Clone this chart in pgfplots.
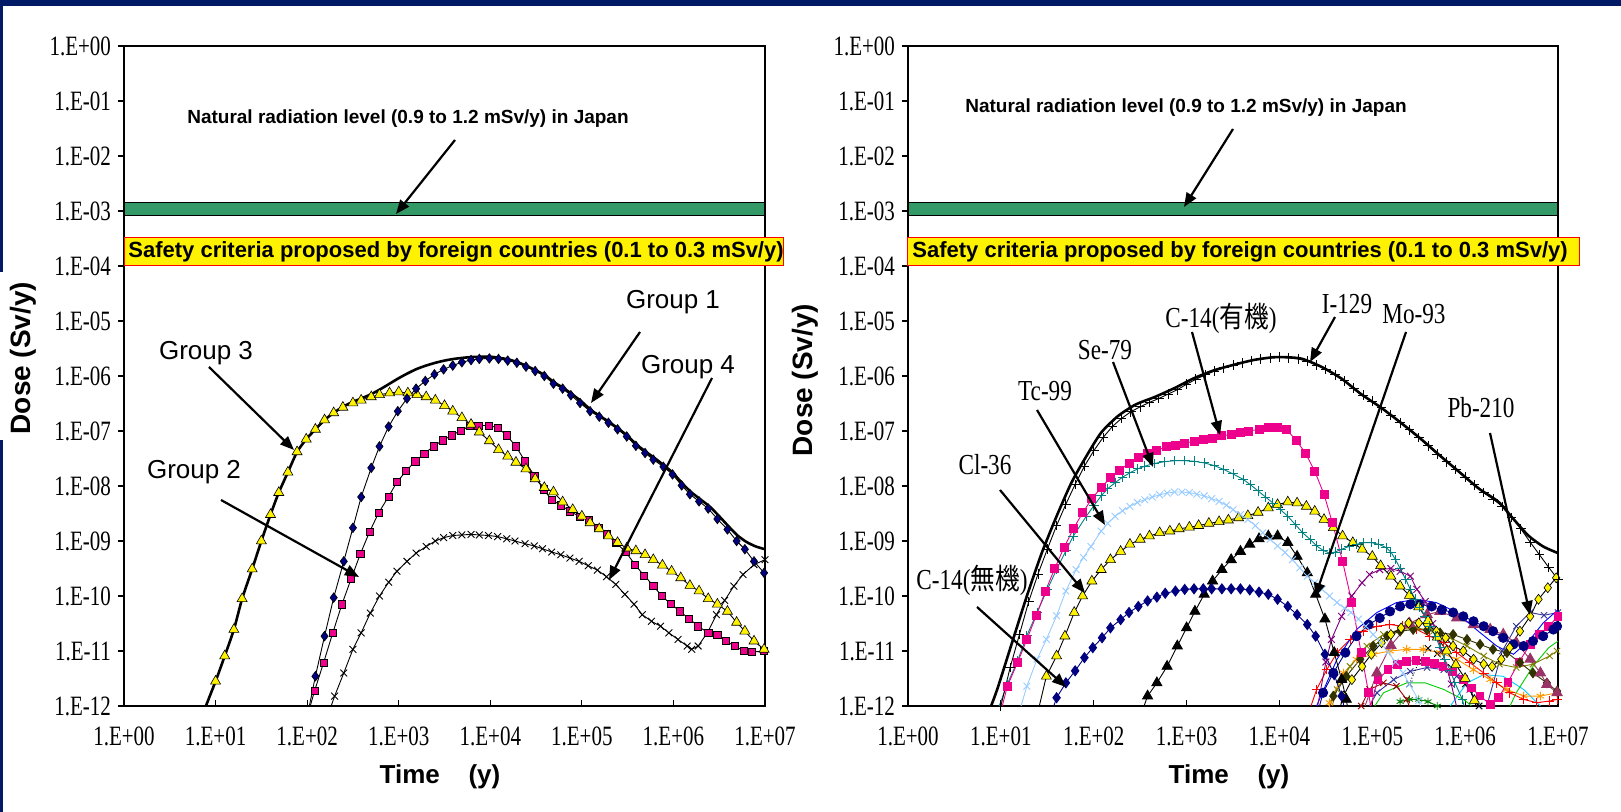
\documentclass[border=0pt]{standalone}
\usepackage{pgfplots}
\pgfplotsset{compat=1.18}
\usepackage{fontspec}
\usetikzlibrary{arrows.meta}
\setmainfont{Liberation Sans}
\newfontfamily\tickfont[FakeStretch=0.75]{Liberation Serif}
\newfontfamily\labfont[FakeStretch=0.8]{Liberation Serif}
\newfontfamily\cjk[FakeStretch=0.85]{Noto Sans CJK JP}
\definecolor{navyband}{HTML}{001A66}
\definecolor{bandgreen}{HTML}{339966}
\definecolor{mynavy}{HTML}{000080}
\definecolor{myteal}{HTML}{008080}
\definecolor{lblue}{HTML}{99CCFF}
\definecolor{mypurple}{HTML}{800080}
\definecolor{mauve}{HTML}{993366}
\definecolor{myolive}{HTML}{808000}
\definecolor{darkolive}{HTML}{333300}
\definecolor{myorange}{HTML}{FF9900}
\definecolor{mygreen}{HTML}{00CC00}
\definecolor{mycyan}{HTML}{00CCFF}
\definecolor{darkred}{HTML}{990000}
\definecolor{slate}{HTML}{333399}
\definecolor{dgreen}{HTML}{008000}
\pgfplotsset{
  dosestyle/.style={
    scale only axis, height=330pt,
    xmin=0, xmax=7, ymin=-12, ymax=0,
    xtick={0,1,2,3,4,5,6,7},
    xticklabels={1.E+00,1.E+01,1.E+02,1.E+03,1.E+04,1.E+05,1.E+06,1.E+07},
    ytick={-12,-11,-10,-9,-8,-7,-6,-5,-4,-3,-2,-1,0},
    yticklabels={1.E-12,1.E-11,1.E-10,1.E-09,1.E-08,1.E-07,1.E-06,1.E-05,1.E-04,1.E-03,1.E-02,1.E-01,1.E+00},
    tick pos=left, xtick align=inside, ytick align=outside,
    major tick length=3pt,
    tick style={black, line width=0.6pt},
    axis line style={line width=0.8pt},
    tick label style={font=\tickfont\fontsize{14}{15}\selectfont},
    xticklabel style={yshift=-7pt},
  },
  thin line/.style={line width=0.45pt},
}
\newcommand{\arr}[2]{\draw[-{Triangle[length=7pt,width=5.5pt]}, line width=1.1pt] #1 -- #2;}
\begin{document}
\begin{tikzpicture}
\path[use as bounding box] (0,0) rectangle (810.5pt,406pt);
\fill[navyband] (0,403pt) rectangle (810.5pt,406pt);
\fill[navyband] (0,0) rectangle (1.5pt,406pt);
\fill[white] (0,186pt) rectangle (3pt,270pt);

% ---------------- LEFT ----------------
\begin{axis}[dosestyle, at={(62pt,53pt)}, anchor=south west, width=320.5pt]
\addplot[fill=bandgreen, draw=black, line width=0.6pt] coordinates {(0,-2.85) (7,-2.85) (7,-3.08) (0,-3.08)} -- cycle;
% Group 4
\addplot[thin line, black, mark=x, mark size=2.4pt] coordinates {
(2.2,-12.3)(2.30,-11.82)(2.4,-11.4)(2.5,-10.97)(2.59,-10.67)(2.69,-10.31)(2.79,-10.0)(2.89,-9.75)(2.98,-9.55)(3.09,-9.37)(3.19,-9.22)(3.3,-9.1)(3.4,-9.0)(3.49,-8.94)(3.59,-8.9)(3.69,-8.89)(3.79,-8.88)(3.88,-8.89)(3.98,-8.9)(4.08,-8.92)(4.18,-8.96)(4.27,-9.0)(4.38,-9.05)(4.48,-9.09)(4.57,-9.14)(4.67,-9.2)(4.77,-9.25)(4.87,-9.31)(4.97,-9.37)(5.07,-9.45)(5.17,-9.53)(5.27,-9.65)(5.37,-9.79)(5.47,-9.97)(5.57,-10.15)(5.66,-10.34)(5.76,-10.46)(5.86,-10.55)(5.95,-10.67)(6.05,-10.79)(6.15,-10.91)(6.2,-10.97)(6.27,-10.91)(6.37,-10.67)(6.47,-10.34)(6.56,-10.08)(6.66,-9.82)(6.76,-9.61)(6.88,-9.43)(7.0,-9.34)};
% Group 2
\addplot[thin line, black, mark=square*, mark size=1.8pt, mark options={fill=magenta, draw=black, line width=0.3pt}] coordinates {
(2.0,-12.2)(2.08,-11.73)(2.18,-11.21)(2.28,-10.67)(2.38,-10.15)(2.48,-9.69)(2.58,-9.24)(2.68,-8.84)(2.78,-8.49)(2.89,-8.19)(2.98,-7.93)(3.08,-7.73)(3.18,-7.55)(3.28,-7.41)(3.38,-7.28)(3.48,-7.17)(3.58,-7.08)(3.68,-6.99)(3.78,-6.91)(3.87,-6.9)(3.98,-6.9)(4.08,-6.94)(4.18,-7.08)(4.28,-7.28)(4.38,-7.55)(4.48,-7.81)(4.58,-8.06)(4.67,-8.25)(4.77,-8.35)(4.87,-8.46)(4.98,-8.56)(5.08,-8.61)(5.18,-8.76)(5.27,-8.88)(5.37,-9.03)(5.48,-9.2)(5.58,-9.43)(5.68,-9.63)(5.78,-9.81)(5.87,-10.0)(5.97,-10.14)(6.07,-10.28)(6.17,-10.41)(6.27,-10.55)(6.38,-10.67)(6.48,-10.7)(6.57,-10.82)(6.67,-10.91)(6.77,-11.0)(6.86,-11.02)(6.99,-11.0)};
% Group 3
\addplot[thin line, black, mark=triangle*, mark size=2.9pt, mark options={fill=yellow, draw=black, line width=0.3pt}] coordinates {
(0.80,-12.4)(1.0,-11.55)(1.1,-11.09)(1.2,-10.61)(1.29,-10.05)(1.4,-9.51)(1.5,-9.0)(1.6,-8.52)(1.69,-8.12)(1.79,-7.75)(1.89,-7.38)(1.99,-7.15)(2.09,-6.97)(2.19,-6.80)(2.29,-6.67)(2.39,-6.57)(2.5,-6.49)(2.59,-6.44)(2.7,-6.38)(2.79,-6.34)(2.9,-6.31)(3.0,-6.29)(3.1,-6.31)(3.2,-6.34)(3.3,-6.38)(3.4,-6.44)(3.5,-6.54)(3.59,-6.64)(3.69,-6.76)(3.79,-6.88)(3.88,-7.02)(3.99,-7.18)(4.09,-7.34)(4.19,-7.46)(4.28,-7.57)(4.39,-7.69)(4.49,-7.87)(4.59,-8.03)(4.69,-8.11)(4.79,-8.29)(4.9,-8.43)(5.0,-8.55)(5.09,-8.67)(5.19,-8.78)(5.29,-8.91)(5.39,-9.03)(5.49,-9.13)(5.59,-9.18)(5.69,-9.25)(5.78,-9.34)(5.88,-9.44)(5.98,-9.55)(6.08,-9.67)(6.18,-9.81)(6.28,-9.91)(6.38,-10.05)(6.48,-10.15)(6.59,-10.28)(6.69,-10.48)(6.78,-10.64)(6.88,-10.82)(6.99,-10.97)};
% Group 1
\addplot[thin line, black, mark=diamond*, mark size=2.4pt, mark options={fill=mynavy, draw=black, line width=0.3pt}] coordinates {
(2.0,-12.2)(2.09,-11.46)(2.19,-10.73)(2.29,-10.03)(2.4,-9.37)(2.5,-8.76)(2.59,-8.2)(2.7,-7.67)(2.79,-7.28)(2.89,-6.92)(2.99,-6.64)(3.09,-6.41)(3.19,-6.23)(3.29,-6.09)(3.39,-5.97)(3.49,-5.88)(3.59,-5.81)(3.69,-5.75)(3.79,-5.71)(3.88,-5.69)(3.99,-5.68)(4.09,-5.69)(4.19,-5.72)(4.29,-5.76)(4.39,-5.83)(4.49,-5.91)(4.59,-6.0)(4.69,-6.14)(4.79,-6.23)(4.88,-6.35)(4.98,-6.49)(5.09,-6.64)(5.19,-6.74)(5.29,-6.85)(5.39,-6.97)(5.49,-7.1)(5.59,-7.27)(5.69,-7.4)(5.78,-7.52)(5.89,-7.65)(5.99,-7.79)(6.09,-7.99)(6.18,-8.15)(6.28,-8.28)(6.38,-8.41)(6.48,-8.6)(6.59,-8.79)(6.69,-9.0)(6.78,-9.15)(6.88,-9.37)(6.99,-9.58)};
% Total
\addplot[black, line width=1.3pt, smooth, tension=0.4] coordinates {
(0.80,-12.4)(1.0,-11.55)(1.1,-11.09)(1.2,-10.61)(1.29,-10.05)(1.4,-9.51)(1.5,-9.0)(1.6,-8.52)(1.69,-8.12)(1.79,-7.75)(1.89,-7.38)(1.99,-7.15)(2.09,-6.97)(2.19,-6.8)(2.29,-6.67)(2.39,-6.56)(2.5,-6.47)(2.59,-6.41)(2.7,-6.33)(2.8,-6.24)(2.9,-6.14)(3.0,-6.04)(3.1,-5.95)(3.2,-5.87)(3.3,-5.81)(3.4,-5.76)(3.5,-5.72)(3.6,-5.69)(3.7,-5.67)(3.8,-5.655)(3.9,-5.65)(4.0,-5.65)(4.1,-5.67)(4.2,-5.7)(4.3,-5.75)(4.4,-5.82)(4.5,-5.9)(4.6,-5.99)(4.7,-6.12)(4.8,-6.22)(4.9,-6.34)(5.0,-6.47)(5.1,-6.62)(5.2,-6.73)(5.3,-6.84)(5.4,-6.96)(5.5,-7.09)(5.6,-7.25)(5.7,-7.38)(5.8,-7.5)(5.9,-7.63)(6.0,-7.77)(6.1,-7.96)(6.2,-8.12)(6.3,-8.25)(6.4,-8.38)(6.5,-8.55)(6.6,-8.73)(6.7,-8.9)(6.8,-9.02)(6.9,-9.1)(7.0,-9.15)};
\end{axis}

% ---------------- RIGHT ----------------
\begin{axis}[dosestyle, at={(454pt,53pt)}, anchor=south west, width=325pt]
\addplot[fill=bandgreen, draw=black, line width=0.6pt] coordinates {(0,-2.85) (7,-2.85) (7,-3.08) (0,-3.08)} -- cycle;
% background nuclides
\addplot[thin line, mycyan] coordinates {(5.75,-12.2)(5.84,-12.0)(6.02,-11.58)(6.2,-11.43)(6.41,-11.46)(6.63,-11.7)(6.81,-12.0)(6.9,-12.2)};
\addplot[thin line, mygreen] coordinates {(4.95,-12.2)(5.12,-11.76)(5.37,-11.58)(5.57,-11.58)(5.77,-11.7)(6.0,-11.9)(6.2,-12.2)(6.4,-12.3)(6.55,-11.76)(6.73,-11.28)(6.9,-10.94)(7.0,-10.82)};
\addplot[thin line, dgreen, mark=asterisk, mark size=2pt] coordinates {(5.3,-11.92)(5.4,-11.88)(5.5,-11.88)(5.6,-11.92)(5.7,-12.0)};
\addplot[thin line, darkred, mark=x, mark size=2.2pt] coordinates {(4.8,-12.2)(4.88,-12.0)(4.97,-11.7)(5.12,-11.58)(5.26,-11.64)(5.37,-11.88)(5.42,-12.1)};
\addplot[thin line, slate, mark=x, mark size=2.2pt] coordinates {(4.9,-12.2)(5.05,-11.76)(5.23,-11.52)(5.41,-11.37)(5.59,-11.3)(5.77,-11.34)(5.91,-11.46)(6.05,-11.7)(6.15,-12.0)(6.2,-12.2)};
\addplot[thin line, slate, mark=x, mark size=2.2pt] coordinates {(6.2,-12.2)(6.4,-11.0)(6.55,-10.55)(6.7,-10.3)(6.85,-10.35)(7.0,-10.3)};
\addplot[thin line, black, densely dotted, mark=x, mark size=2.2pt, mark options={solid}] coordinates {(5.4,-11.6)(5.5,-11.2)(5.6,-10.95)(5.7,-11.05)(5.85,-11.3)(6.0,-11.6)(6.15,-12.0)(6.2,-12.2)};
\addplot[thin line, magenta, mark=square*, mark size=1.9pt, mark options={fill=magenta}] coordinates {(4.95,-12.2)(5.06,-11.52)(5.17,-11.34)(5.27,-11.25)(5.37,-11.19)(5.47,-11.17)(5.57,-11.19)(5.67,-11.23)(5.76,-11.28)(5.87,-11.38)(5.98,-11.52)(6.07,-11.67)(6.16,-11.82)(6.27,-11.97)(6.36,-11.85)(6.46,-11.57)(6.58,-11.2)(6.7,-10.88)(6.8,-10.7)(6.9,-10.55)(7.0,-10.37)};
\addplot[thin line, myorange, mark=asterisk, mark size=2.2pt] coordinates {(4.5,-12.2)(4.54,-11.94)(4.69,-11.4)(4.83,-11.15)(5.01,-11.06)(5.19,-11.0)(5.37,-10.97)(5.55,-10.97)(5.73,-11.03)(5.91,-11.15)(6.09,-11.34)(6.27,-11.52)(6.45,-11.7)(6.63,-11.82)(6.81,-11.82)(6.99,-11.76)};
\addplot[thin line, red, mark=+, mark size=2.4pt] coordinates {(4.3,-12.2)(4.4,-11.7)(4.51,-11.34)(4.62,-11.03)(4.76,-10.79)(4.9,-10.64)(5.05,-10.55)(5.19,-10.52)(5.33,-10.55)(5.48,-10.61)(5.62,-10.73)(5.77,-10.85)(5.91,-11.03)(6.05,-11.21)(6.2,-11.4)(6.34,-11.58)(6.48,-11.76)(6.63,-11.88)(6.77,-11.94)(6.91,-11.91)(6.99,-11.88)};
\addplot[thin line, myolive, mark=x, mark size=2.2pt] coordinates {(4.55,-12.1)(4.62,-11.7)(4.76,-11.28)(4.94,-10.91)(5.12,-10.7)(5.3,-10.61)(5.48,-10.58)(5.66,-10.64)(5.84,-10.76)(6.02,-10.91)(6.2,-11.09)(6.37,-11.24)(6.55,-11.3)(6.73,-11.24)(6.91,-11.09)(6.99,-11.0)};
\addplot[thin line, darkolive, mark=diamond*, mark size=2.4pt, mark options={fill=darkolive}] coordinates {(4.5,-12.2)(4.58,-11.82)(4.72,-11.46)(4.87,-11.15)(5.01,-10.91)(5.16,-10.73)(5.3,-10.64)(5.44,-10.61)(5.59,-10.62)(5.73,-10.67)(5.87,-10.7)(6.02,-10.79)(6.16,-10.88)(6.3,-10.97)(6.45,-11.03)(6.59,-11.21)(6.73,-11.4)(6.88,-11.58)(6.99,-11.73)};
\addplot[thin line, mauve, mark=triangle*, mark size=3pt, mark options={fill=mauve}] coordinates {(4.9,-12.1)(5.05,-11.4)(5.2,-10.9)(5.4,-10.5)(5.59,-10.34)(5.73,-10.28)(5.91,-10.4)(6.09,-10.52)(6.27,-10.61)(6.41,-10.7)(6.55,-10.85)(6.7,-11.15)(6.81,-11.4)(6.88,-11.61)(6.99,-11.76)};
\addplot[thin line, blue] coordinates {(4.35,-12.2)(4.4,-12.0)(4.62,-11.15)(4.83,-10.61)(5.05,-10.3)(5.26,-10.12)(5.48,-10.06)(5.69,-10.12)(5.91,-10.3)(6.12,-10.61)(6.34,-10.91)(6.52,-11.06)(6.7,-10.79)(6.84,-10.49)(7.0,-10.25)};
\addplot[thin line, mynavy, mark=*, mark size=2.3pt, mark options={fill=mynavy}] coordinates {(4.4,-12.2)(4.47,-11.76)(4.58,-11.4)(4.71,-11.03)(4.83,-10.73)(4.96,-10.52)(5.08,-10.4)(5.19,-10.28)(5.3,-10.19)(5.41,-10.15)(5.51,-10.15)(5.64,-10.19)(5.75,-10.25)(5.87,-10.3)(5.98,-10.37)(6.09,-10.46)(6.2,-10.55)(6.3,-10.64)(6.41,-10.76)(6.52,-10.88)(6.63,-10.91)(6.73,-10.82)(6.84,-10.73)(6.95,-10.61)(6.99,-10.55)};
\addplot[thin line, mypurple, mark=x, mark size=2.4pt] coordinates {(4.4,-12.1)(4.5,-11.2)(4.56,-10.79)(4.67,-10.37)(4.78,-10.0)(4.89,-9.76)(4.97,-9.61)(5.08,-9.52)(5.2,-9.5)(5.3,-9.55)(5.41,-9.64)(5.48,-9.88)(5.57,-10.1)(5.65,-10.5)(5.75,-11.0)(5.85,-11.6)(5.92,-12.1)};
% Pb-210
\addplot[thin line, black, mark=diamond*, mark size=2.5pt, mark options={fill=yellow, draw=black, line width=0.3pt}] coordinates {(4.62,-12.2)(4.69,-11.82)(4.78,-11.52)(4.89,-11.28)(4.99,-11.06)(5.1,-10.85)(5.2,-10.7)(5.31,-10.58)(5.39,-10.49)(5.5,-10.49)(5.59,-10.52)(5.69,-10.64)(5.79,-10.76)(5.87,-10.91)(5.98,-11.0)(6.09,-11.15)(6.2,-11.24)(6.29,-11.28)(6.39,-11.15)(6.48,-10.94)(6.59,-10.64)(6.7,-10.37)(6.79,-10.06)(6.89,-9.85)(6.98,-9.67)};
% Mo-93
\addplot[thin line, black, mark=triangle*, mark size=2.9pt, mark options={fill=black}] coordinates {(2.5,-12.2)(2.58,-11.82)(2.68,-11.58)(2.79,-11.28)(2.9,-10.91)(3.0,-10.58)(3.09,-10.28)(3.19,-9.97)(3.28,-9.73)(3.38,-9.52)(3.48,-9.34)(3.58,-9.19)(3.68,-9.06)(3.78,-8.96)(3.88,-8.91)(3.98,-8.91)(4.09,-9.03)(4.19,-9.28)(4.3,-9.58)(4.39,-9.97)(4.49,-10.42)(4.59,-11.03)(4.67,-11.52)(4.72,-11.88)(4.75,-12.2)};
% C-14 inorganic
\addplot[thin line, mynavy, mark=diamond*, mark size=2.5pt, mark options={fill=mynavy}] coordinates {(1.55,-12.1)(1.6,-11.85)(1.7,-11.58)(1.8,-11.36)(1.9,-11.12)(1.99,-10.94)(2.09,-10.76)(2.18,-10.58)(2.29,-10.43)(2.38,-10.3)(2.48,-10.19)(2.58,-10.09)(2.68,-10.02)(2.77,-9.95)(2.88,-9.91)(2.98,-9.88)(3.08,-9.87)(3.18,-9.87)(3.27,-9.87)(3.38,-9.87)(3.48,-9.87)(3.58,-9.87)(3.68,-9.89)(3.78,-9.93)(3.88,-9.97)(3.98,-10.06)(4.09,-10.19)(4.19,-10.34)(4.3,-10.52)(4.39,-10.73)(4.49,-11.06)(4.59,-11.43)(4.67,-11.82)(4.72,-12.2)};
% Cl-36
\addplot[thin line, black, mark=triangle*, mark size=2.9pt, mark options={fill=yellow, draw=black, line width=0.3pt}] coordinates {(1.4,-12.1)(1.49,-11.46)(1.6,-11.09)(1.69,-10.73)(1.79,-10.3)(1.88,-10.0)(1.98,-9.73)(2.08,-9.52)(2.18,-9.34)(2.29,-9.19)(2.39,-9.06)(2.5,-8.97)(2.6,-8.91)(2.71,-8.85)(2.82,-8.82)(2.92,-8.78)(3.03,-8.75)(3.13,-8.72)(3.24,-8.68)(3.35,-8.65)(3.45,-8.62)(3.56,-8.58)(3.66,-8.54)(3.77,-8.48)(3.88,-8.4)(3.98,-8.34)(4.09,-8.29)(4.19,-8.31)(4.29,-8.37)(4.38,-8.46)(4.48,-8.61)(4.58,-8.76)(4.68,-8.91)(4.79,-9.03)(4.89,-9.15)(5.0,-9.28)(5.09,-9.45)(5.2,-9.64)(5.3,-9.82)(5.4,-9.99)(5.5,-10.2)(5.6,-10.45)(5.7,-10.75)(5.8,-11.0)(5.9,-11.25)(6.0,-11.5)(6.1,-11.9)(6.15,-12.2)};
% Tc-99
\addplot[thin line, lblue, mark=x, mark size=2.4pt] coordinates {(1.2,-12.1)(1.28,-11.64)(1.39,-11.15)(1.49,-10.79)(1.6,-10.36)(1.7,-9.91)(1.81,-9.52)(1.89,-9.3)(1.97,-9.1)(2.08,-8.82)(2.15,-8.68)(2.23,-8.55)(2.31,-8.45)(2.39,-8.37)(2.47,-8.3)(2.55,-8.25)(2.63,-8.2)(2.71,-8.16)(2.79,-8.13)(2.87,-8.11)(2.95,-8.11)(3.03,-8.12)(3.11,-8.15)(3.19,-8.18)(3.27,-8.23)(3.35,-8.28)(3.43,-8.35)(3.5,-8.43)(3.58,-8.52)(3.66,-8.61)(3.74,-8.72)(3.82,-8.85)(3.9,-8.97)(3.98,-9.09)(4.06,-9.21)(4.14,-9.34)(4.22,-9.49)(4.3,-9.64)(4.38,-9.76)(4.46,-9.88)(4.54,-10.0)(4.62,-10.12)(4.7,-10.22)(4.77,-10.3)(4.85,-10.42)(4.93,-10.55)(5.01,-10.7)(5.09,-10.85)(5.17,-11.02)(5.25,-11.2)(5.33,-11.4)(5.4,-11.6)(5.5,-11.9)(5.56,-12.2)};
% Se-79
\addplot[thin line, myteal, mark=+, mark size=2.4pt] coordinates {(0.96,-12.1)(1.07,-11.6)(1.18,-11.18)(1.28,-10.72)(1.39,-10.3)(1.5,-9.88)(1.6,-9.52)(1.7,-9.18)(1.78,-8.91)(1.92,-8.55)(2.0,-8.36)(2.08,-8.18)(2.15,-8.05)(2.23,-7.94)(2.31,-7.84)(2.39,-7.76)(2.47,-7.69)(2.55,-7.64)(2.65,-7.59)(2.76,-7.56)(2.87,-7.54)(2.98,-7.54)(3.08,-7.55)(3.19,-7.58)(3.3,-7.63)(3.4,-7.7)(3.5,-7.78)(3.61,-7.88)(3.69,-7.98)(3.77,-8.09)(3.85,-8.2)(3.93,-8.31)(4.01,-8.43)(4.09,-8.55)(4.17,-8.7)(4.25,-8.85)(4.33,-8.97)(4.4,-9.09)(4.47,-9.17)(4.54,-9.22)(4.6,-9.2)(4.67,-9.15)(4.75,-9.1)(4.83,-9.06)(4.91,-9.03)(4.99,-9.03)(5.07,-9.06)(5.15,-9.12)(5.2,-9.2)(5.25,-9.34)(5.3,-9.5)(5.36,-9.7)(5.41,-9.88)(5.46,-10.06)(5.51,-10.2)(5.57,-10.37)(5.62,-10.55)(5.68,-10.73)(5.73,-10.94)(5.78,-11.15)(5.84,-11.36)(5.89,-11.58)(5.97,-11.88)(6.02,-12.2)};
% C-14 organic
\addplot[thin line, magenta, mark=square*, mark size=2pt, mark options={fill=magenta}] coordinates {(1.0,-12.1)(1.07,-11.64)(1.18,-11.21)(1.28,-10.79)(1.38,-10.36)(1.48,-9.91)(1.58,-9.5)(1.68,-9.12)(1.78,-8.78)(1.88,-8.49)(1.98,-8.23)(2.08,-8.03)(2.18,-7.85)(2.28,-7.71)(2.38,-7.59)(2.48,-7.49)(2.58,-7.41)(2.68,-7.35)(2.78,-7.29)(2.88,-7.26)(2.98,-7.22)(3.08,-7.19)(3.18,-7.16)(3.28,-7.13)(3.38,-7.09)(3.48,-7.06)(3.58,-7.03)(3.67,-7.0)(3.78,-6.97)(3.88,-6.94)(3.98,-6.94)(4.08,-6.98)(4.18,-7.17)(4.28,-7.4)(4.38,-7.73)(4.48,-8.15)(4.57,-8.67)(4.68,-9.37)(4.78,-10.12)(4.88,-11.03)(4.96,-11.76)(5.0,-12.2)};
% I-129
\addplot[thin line, black, mark=+, mark size=2.4pt] coordinates {(1.0,-12.0)(1.1,-11.3)(1.2,-10.7)(1.3,-10.1)(1.4,-9.6)(1.5,-9.15)(1.6,-8.72)(1.7,-8.33)(1.8,-7.97)(1.9,-7.64)(2.0,-7.36)(2.1,-7.12)(2.2,-6.92)(2.3,-6.77)(2.4,-6.65)(2.5,-6.56)(2.6,-6.48)(2.7,-6.41)(2.8,-6.33)(2.9,-6.25)(3.0,-6.15)(3.1,-6.06)(3.2,-5.98)(3.3,-5.91)(3.4,-5.85)(3.5,-5.8)(3.6,-5.76)(3.7,-5.72)(3.8,-5.69)(3.9,-5.67)(4.0,-5.66)(4.1,-5.67)(4.2,-5.69)(4.3,-5.73)(4.4,-5.8)(4.5,-5.88)(4.6,-5.98)(4.7,-6.09)(4.8,-6.22)(4.9,-6.35)(5.0,-6.46)(5.1,-6.58)(5.2,-6.71)(5.3,-6.85)(5.4,-6.98)(5.5,-7.12)(5.6,-7.27)(5.7,-7.42)(5.8,-7.56)(5.9,-7.7)(6.0,-7.84)(6.1,-7.98)(6.2,-8.12)(6.3,-8.24)(6.4,-8.37)(6.5,-8.57)(6.6,-8.78)(6.7,-9.02)(6.8,-9.25)(6.9,-9.48)(7.0,-9.7)};
% Total
\addplot[black, line width=1.3pt, smooth, tension=0.4] coordinates {(0.85,-12.2)(0.96,-11.7)(1.12,-10.85)(1.28,-10.0)(1.44,-9.22)(1.6,-8.55)(1.76,-7.94)(1.92,-7.46)(2.08,-7.03)(2.26,-6.73)(2.45,-6.52)(2.66,-6.38)(2.87,-6.22)(3.08,-6.04)(3.29,-5.9)(3.5,-5.8)(3.72,-5.71)(3.93,-5.66)(4.09,-5.66)(4.25,-5.69)(4.46,-5.84)(4.67,-6.05)(4.88,-6.33)(5.09,-6.57)(5.3,-6.84)(5.52,-7.14)(5.73,-7.45)(5.94,-7.75)(6.15,-8.05)(6.36,-8.29)(6.52,-8.6)(6.68,-8.9)(6.84,-9.1)(7.0,-9.22)};
\end{axis}

% ---------------- annotations ----------------
\draw[red, line width=0.5pt, fill=yellow] (62pt,273pt) rectangle (391.5pt,287pt);
\node[anchor=west, inner sep=0pt, font=\bfseries\fontsize{11}{12}\selectfont] at (64pt,280pt) {Safety criteria proposed by foreign countries (0.1 to 0.3 mSv/y)};
\draw[red, line width=0.5pt, fill=yellow] (453.5pt,273pt) rectangle (789.5pt,287pt);
\node[anchor=west, inner sep=0pt, font=\bfseries\fontsize{11}{12}\selectfont] at (456pt,280pt) {Safety criteria proposed by foreign countries (0.1 to 0.3 mSv/y)};
\node[font=\bfseries\fontsize{9.5}{11}\selectfont] at (204pt,346.5pt) {Natural radiation level (0.9 to 1.2 mSv/y) in Japan};
\node[font=\bfseries\fontsize{9.5}{11}\selectfont] at (593pt,352pt) {Natural radiation level (0.9 to 1.2 mSv/y) in Japan};
\arr{(227.5pt,336pt)}{(198pt,299pt)}
\arr{(616.5pt,341.5pt)}{(592pt,302.5pt)}
\begin{scope}[every node/.style={font=\fontsize{13}{14}\selectfont}]
\node at (336.5pt,255pt) {Group 1};
\node at (103pt,229.5pt) {Group 3};
\node at (344pt,222.5pt) {Group 4};
\node at (97pt,170pt) {Group 2};
\end{scope}
\arr{(320pt,240pt)}{(295.5pt,204.5pt)}
\arr{(104.5pt,222.5pt)}{(147pt,181pt)}
\arr{(356pt,217pt)}{(304.5pt,116pt)}
\arr{(110.5pt,156pt)}{(179.5pt,117.5pt)}
\begin{scope}[every node/.style={font=\labfont\fontsize{14.5}{15}\selectfont}]
\node at (673.5pt,254pt) {I-129};
\node at (707pt,249pt) {Mo-93};
\node at (610.5pt,247pt) {C-14({\cjk 有機})};
\node at (552.5pt,231pt) {Se-79};
\node at (522.5pt,210.5pt) {Tc-99};
\node at (492.5pt,173.5pt) {Cl-36};
\node at (486pt,116pt) {C-14({\cjk 無機})};
\node at (740.5pt,202pt) {Pb-210};
\end{scope}
\arr{(667.5pt,247.5pt)}{(655pt,225pt)}
\arr{(703pt,240pt)}{(657.5pt,107.5pt)}
\arr{(596pt,240pt)}{(610pt,188.5pt)}
\arr{(556.5pt,225pt)}{(576.5pt,172.5pt)}
\arr{(518.5pt,201pt)}{(552.5pt,143.5pt)}
\arr{(500pt,161pt)}{(542.5pt,109.5pt)}
\arr{(488.5pt,102.5pt)}{(533pt,62.5pt)}
\arr{(745pt,189.5pt)}{(765pt,98.5pt)}
\node[rotate=90, font=\bfseries\fontsize{14}{15}\selectfont] at (11.5pt,227pt) {Dose (Sv/y)};
\node[rotate=90, font=\bfseries\fontsize{14}{15}\selectfont] at (402.5pt,216pt) {Dose (Sv/y)};
\node[font=\bfseries\fontsize{13}{14}\selectfont] at (220pt,17.5pt) {Time\hspace{1.1em}(y)};
\node[font=\bfseries\fontsize{13}{14}\selectfont] at (614.5pt,17.5pt) {Time\hspace{1.1em}(y)};
\end{tikzpicture}
\end{document}
